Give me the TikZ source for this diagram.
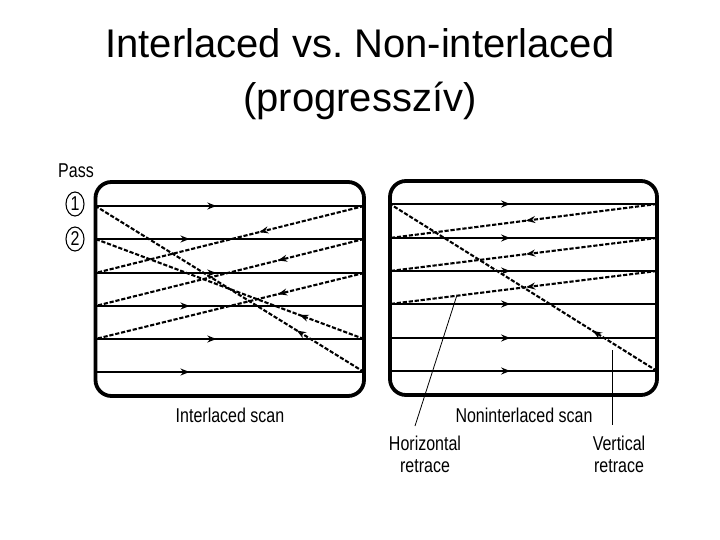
\documentclass[tikz,border=0pt]{standalone}
\usepackage{fontspec}
\setmainfont{Liberation Sans}
\newfontfamily\narrowfont[FakeStretch=0.8]{Liberation Sans}
\usetikzlibrary{decorations.markings,arrows.meta,shapes.geometric}
\tikzset{
  screen/.style={line width=3.8pt, rounded corners=16pt},
  scanline/.style={line width=2.1pt},
  retrace/.style={line width=2.1pt, dash pattern=on 4.2pt off 1.8pt},
  leader/.style={line width=0.8pt},
  midarrow/.style={postaction={decorate}, decoration={markings,
     mark=at position #1 with {\arrow{Stealth[length=9pt,width=7pt]}}}},
  lbl/.style={font=\narrowfont\fontsize{20}{22}\selectfont, inner sep=0pt, align=center},
  passnum/.style={draw, ellipse, line width=1.1pt, minimum width=18pt, minimum height=24pt,
     inner sep=0pt, font=\narrowfont\fontsize{20}{20}\selectfont},
}
\begin{document}
\begin{tikzpicture}[x=1pt,y=-1pt]
\useasboundingbox (0,0) rectangle (720,540);
\fill[white] (0,0) rectangle (720,540);
% title
\node[align=center, font=\fontsize{40}{54}\selectfont, inner sep=0pt] (title) at (360,74)
  {Interlaced vs.\ Non-interlaced\\(progressz\'iv)};
% pass labels
\node[lbl, anchor=west] (pass) at (58,171) {Pass};
\node[passnum] (p1) at (75,204) {1};
\node[passnum] (p2) at (75,239) {2};

% ---------------- left screen (interlaced)
\draw[screen] (95.5,182) rectangle (364,396);
\foreach \i/\y in {1/206,2/239,3/273,4/306,5/339,6/372}{
  \coordinate (la\i) at (95.5,\y);
  \coordinate (lb\i) at (364,\y);
}
\foreach \i in {1,3,5} \draw[scanline, midarrow=0.45] (la\i) -- (lb\i);
\foreach \i in {2,4,6} \draw[scanline, midarrow=0.35] (la\i) -- (lb\i);
\draw[retrace, midarrow=0.39] (lb1) -- (la3);
\draw[retrace, midarrow=0.32] (lb2) -- (la4);
\draw[retrace, midarrow=0.32] (lb3) -- (la5);
\draw[retrace, midarrow=0.25] (lb6) -- (la1);
\draw[retrace, midarrow=0.24] (lb5) -- (la2);
\node[lbl] (ilabel) at (230,415) {Interlaced scan};

% ---------------- right screen (non-interlaced)
\draw[screen] (390,181) rectangle (657,395);
\foreach \i/\y in {1/204,2/238,3/271,4/304,5/338,6/371}{
  \coordinate (ra\i) at (390,\y);
  \coordinate (rb\i) at (657,\y);
}
\foreach \i in {1,...,6} \draw[scanline, midarrow=0.45] (ra\i) -- (rb\i);
\draw[retrace, midarrow=0.49] (rb1) -- (ra2);
\draw[retrace, midarrow=0.49] (rb2) -- (ra3);
\draw[retrace, midarrow=0.49] (rb3) -- (ra4) coordinate[pos=0.75] (hr);
\draw[retrace, midarrow=0.24] (rb6) -- (ra1) coordinate[pos=0.165] (vr);
\node[lbl] (nlabel) at (524,415) {Noninterlaced scan};

% leaders
\node[lbl] (hlabel) at (425,454) {Horizontal\\retrace};
\node[lbl] (vlabel) at (619,454) {Vertical\\retrace};
\coordinate (hend) at (415,426);
\coordinate (vtop) at (612,350);
\coordinate (vend) at (612,425);
\draw[leader] (hr) -- (hend);
\draw[leader] (vtop) -- (vend);
\end{tikzpicture}
\end{document}
